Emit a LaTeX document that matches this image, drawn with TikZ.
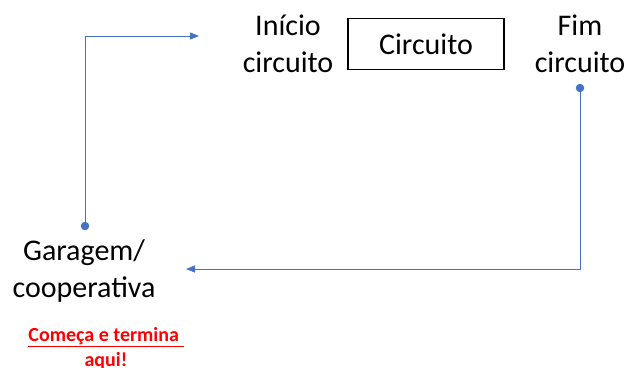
\documentclass[tikz,border=0pt]{standalone}
\usepackage{fontspec}
\setmainfont{Carlito}
\usetikzlibrary{arrows.meta}
\definecolor{conn}{HTML}{4472C4}
\definecolor{redtxt}{HTML}{FF0000}
\tikzset{
  lbl/.style={align=center,inner sep=0pt,font=\fontsize{30}{37}\selectfont,anchor=base},
  conline/.style={draw=conn,line width=0.9pt,-{Triangle[length=9pt,width=7pt]}},
  dotp/.style={circle,fill=conn,inner sep=0pt,minimum size=8.5pt},
  boxn/.style={draw=black,line width=1.2pt,minimum width=156pt,minimum height=51pt,inner sep=0pt,font=\fontsize{30}{37}\selectfont}
}
\begin{document}
\begin{tikzpicture}[x=1pt,y=-1pt]
\useasboundingbox (0,0) rectangle (628,367);
\node[lbl] (inicio) at (288,72) {Início\\circuito};
\node[boxn] (circ) at (426,44) {Circuito};
\node[lbl] (fim) at (580,72) {Fim\\circuito};
\node[lbl] (gar) at (84,297) {Garagem/\\cooperativa};
\node[align=center,inner sep=0pt,anchor=base,text=redtxt,font=\bfseries\fontsize{20}{24.5}\selectfont] (nota) at (106,366) {\underline{Começa e termina\ }\\\underline{aqui!}};
\node[dotp] (d1) at (85,226) {};
\node[dotp] (d2) at (580,88) {};
\coordinate (c1) at (85,36);
\coordinate (e1) at (199,36);
\coordinate (c2) at (580,269);
\coordinate (e2) at (186,269);
\draw[conline] (d1.center) -- (c1) -- (e1);
\draw[conline] (d2.center) -- (c2) -- (e2);
\end{tikzpicture}
\end{document}
